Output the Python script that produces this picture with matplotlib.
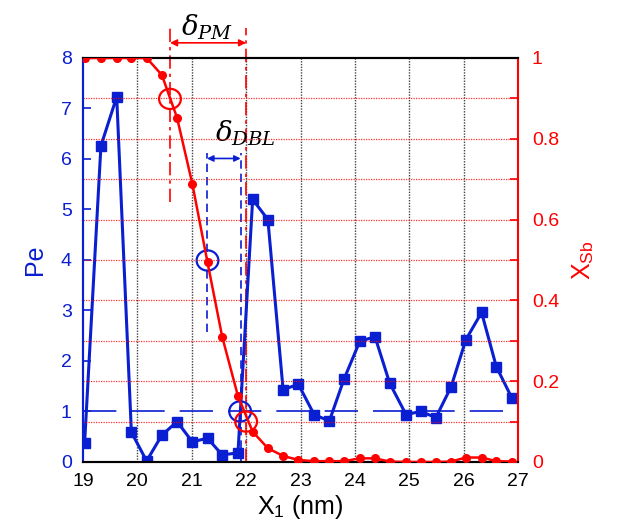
import matplotlib
matplotlib.use('Agg')
from matplotlib import pyplot as plt
from matplotlib.patches import Ellipse

plt.rcParams['font.family'] = ['Liberation Sans', 'DejaVu Sans']
plt.rcParams['mathtext.fontset'] = 'dejavuserif'

# data
x = [19.03, 19.33, 19.62, 19.89, 20.17, 20.45, 20.73, 21.01, 21.29, 21.56,
     21.85, 22.12, 22.40, 22.68, 22.96, 23.25, 23.53, 23.80, 24.09, 24.37,
     24.64, 24.94, 25.21, 25.49, 25.77, 26.04, 26.33, 26.60, 26.89]
pe = [0.38, 6.26, 7.23, 0.59, 0.02, 0.53, 0.80, 0.40, 0.47, 0.14,
      0.18, 5.20, 4.80, 1.43, 1.54, 0.94, 0.81, 1.64, 2.39, 2.48,
      1.56, 0.94, 1.00, 0.88, 1.49, 2.42, 2.96, 1.89, 1.26]
xsb = [1.0, 1.0, 1.0, 1.0, 1.0, 0.958, 0.852, 0.689, 0.494, 0.310,
       0.163, 0.075, 0.034, 0.015, 0.005, 0.002, 0.002, 0.002, 0.009, 0.009,
       0.001, 0.0, 0.0, 0.0, 0.001, 0.011, 0.011, 0.002, 0.001]

pe_limit = 1.0
pm_left, pm_right = 20.6, 22.0
dbl_left, dbl_right = 21.28, 21.90

blue = '#0a1ed2'
red = '#ff0000'

fig = plt.figure(figsize=(6.23, 5.29), dpi=100)
ax = fig.add_axes([0.1332, 0.1267, 0.6983, 0.7637])
ax2 = ax.twinx()

ax.set_xlim(19, 27)
ax.set_ylim(0, 8)
ax2.set_ylim(0, 1)

# grids
for xv in range(20, 27):
    ax.axvline(xv, color='#444444', lw=1.0, ls=(0, (1, 1)), zorder=0)
for k in range(1, 10):
    ax2.axhline(k / 10, color=red, lw=0.9, ls=(0, (1, 1)), alpha=0.8, zorder=0)

ax.plot([19, 27], [pe_limit, pe_limit], color=blue, lw=1.2, ls=(0, (20, 9)), zorder=2)
ax.plot(x, pe, '-s', color=blue, lw=2.2, ms=6.5, zorder=3)
ax2.plot(x, xsb, '-o', color=red, lw=1.8, ms=5.5, zorder=3)

# delta PM markers
ax.plot([pm_left, pm_left], [5.15, 8.6], color=red, lw=1.2, ls=(0, (8, 3, 2, 3)), clip_on=False)
ax.plot([pm_right, pm_right], [0, 8.6], color=red, lw=1.2, ls=(0, (8, 3, 2, 3)), clip_on=False)
ax.annotate('', xy=(pm_left, 8.3), xytext=(pm_right, 8.3), annotation_clip=False,
            arrowprops=dict(arrowstyle='<|-|>', color=red, lw=1.2, mutation_scale=10,
                            shrinkA=0, shrinkB=0))
ax.text(21.29, 8.6, r'$\delta_{PM}$', fontsize=20, ha='center', va='center', color='black')

# delta DBL markers
ax.plot([dbl_left, dbl_left], [2.57, 6.12], color=blue, lw=1.2, ls=(0, (5, 3)))
ax.plot([dbl_right, dbl_right], [0, 6.12], color=blue, lw=1.2, ls=(0, (5, 3)))
ax.annotate('', xy=(dbl_left, 6.01), xytext=(dbl_right, 6.01),
            arrowprops=dict(arrowstyle='<|-|>', color=blue, lw=1.2, mutation_scale=9,
                            shrinkA=0, shrinkB=0))
ax.text(21.98, 6.5, r'$\delta_{DBL}$', fontsize=20, ha='center', va='center', color='black')

# circles
for cx, cy, col in [(20.6, 7.19, red), (21.29, 3.99, blue), (21.89, 1.0, blue), (22.0, 0.80, red)]:
    ax.add_patch(Ellipse((cx, cy), 0.4, 0.4, fill=False, ec=col, lw=1.6, zorder=5))

# spines and ticks
ax.spines['left'].set_color(blue)
ax.spines['left'].set_linewidth(1.5)
ax2.spines['left'].set_color(blue)
ax2.spines['left'].set_linewidth(1.5)
ax2.spines['right'].set_color(red)
ax2.spines['right'].set_linewidth(1.5)
ax.spines['right'].set_visible(False)
ax.spines['top'].set_linewidth(1.5)
ax.spines['bottom'].set_linewidth(1.5)
ax2.spines['top'].set_linewidth(1.5)
ax2.spines['bottom'].set_linewidth(1.5)

ax.set_xticks(range(19, 28))
ax.set_yticks(range(0, 9))
ax2.set_yticks([0, 0.2, 0.4, 0.6, 0.8, 1.0])
ax2.set_yticklabels(['0', '0.2', '0.4', '0.6', '0.8', '1'])
ax2.set_yticks([0.1, 0.3, 0.5, 0.7, 0.9], minor=True)
ax.tick_params(axis='x', direction='in', length=0, labelsize=14, pad=8, colors='black')
ax.tick_params(axis='y', direction='in', length=6, width=1.2, labelsize=14, colors=blue, pad=8)
ax2.tick_params(axis='y', which='both', direction='in', length=6, width=1.2, labelsize=14,
                colors=red, pad=10)

ax.set_xlabel('X$_\\mathregular{1}$ (nm)', fontsize=18, labelpad=2)
ax.set_ylabel('Pe', fontsize=18, color=blue, labelpad=10)
ax2.set_ylabel('X$_\\mathregular{Sb}$', fontsize=18, color=red, labelpad=8)

fig.savefig('out.png', dpi=100)
